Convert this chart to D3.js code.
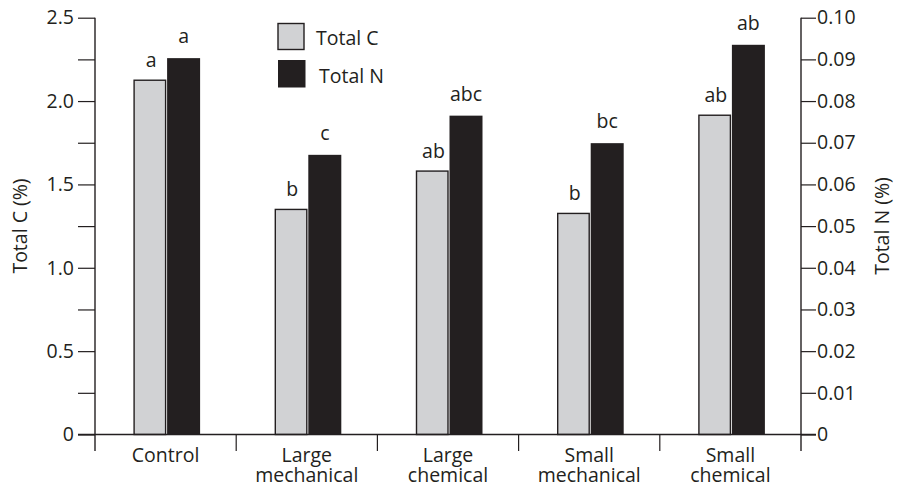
<!DOCTYPE html>
<html>
<head>
<meta charset="utf-8">
<script src="https://cdn.jsdelivr.net/npm/d3@7"></script>
<style>
  html, body { margin: 0; padding: 0; background: #fff; }
  svg text { font-family: "Open Sans", "Noto Sans", sans-serif; fill: #231f20; }
</style>
</head>
<body>
<svg id="chart" width="899" height="487"></svg>
<script>
// Treatments and their measured soil carbon / nitrogen
const categories = ["Control", "Large mechanical", "Large chemical", "Small mechanical", "Small chemical"];
const categoryLines = [["Control"], ["Large", "mechanical"], ["Large", "chemical"], ["Small", "mechanical"], ["Small", "chemical"]];
const totalC = [2.125, 1.35, 1.58, 1.326, 1.915];
const totalN = [0.0903, 0.0671, 0.0765, 0.0699, 0.0935];
const lettersC = ["a", "b", "ab", "b", "ab"];
const lettersN = ["a", "c", "abc", "bc", "ab"];
const ticksC = [0, 0.5, 1.0, 1.5, 2.0, 2.5];
const minorTicksC = [0.25, 0.75, 1.25, 1.75, 2.25];
const ticksN = [0, 0.01, 0.02, 0.03, 0.04, 0.05, 0.06, 0.07, 0.08, 0.09, 0.10];

const ink = "#231f20";
const grey = "#d1d2d4";
const fs = 19.5;

const svg = d3.select("#chart");
const plotLeft = 95, plotRight = 801, plotTop = 17.7, plotBottom = 434.5;

const x = d3.scaleBand().domain(categories).range([plotLeft, plotRight]);
const barW = 33;
const yC = d3.scaleLinear().domain([0, 2.5]).range([plotBottom, plotTop]);
const yN = d3.scaleLinear().domain([0, 0.1]).range([plotBottom, plotTop]);

const fmtC = d => d === 0 ? "0" : d3.format(".1f")(d);
const fmtN = d => d === 0 ? "0" : d3.format(".2f")(d);

// Left axis (Total C)
const gL = svg.append("g").attr("transform", `translate(${plotLeft},0)`)
  .call(d3.axisLeft(yC).tickValues(ticksC).tickFormat(fmtC).tickSize(17).tickPadding(4));
svg.append("g").attr("transform", `translate(${plotLeft},0)`)
  .call(d3.axisLeft(yC).tickValues(minorTicksC).tickFormat("").tickSize(17))
  .select(".domain").remove();

// Right axis (Total N)
const gR = svg.append("g").attr("transform", `translate(${plotRight},0)`)
  .call(d3.axisRight(yN).tickValues(ticksN).tickFormat(fmtN).tickSize(15).tickPadding(1));

[gL, gR].forEach(g => {
  g.select(".domain").remove();
  g.selectAll("text").attr("font-size", fs).style("font-family", "'Open Sans', sans-serif").attr("fill", ink);
});
svg.selectAll(".tick line").attr("stroke", ink).attr("stroke-width", 1.2);

// Vertical axis lines reaching below the baseline
[plotLeft, plotRight].forEach(xx => {
  svg.append("line").attr("x1", xx).attr("x2", xx).attr("y1", plotTop).attr("y2", 451)
    .attr("stroke", ink).attr("stroke-width", 1.4);
});

// Bars
const groups = svg.append("g").selectAll("g").data(categories).join("g");
groups.append("rect")
  .attr("x", (d) => x(d) + x.bandwidth() / 2 - barW + 1.5)
  .attr("width", barW - 1.5)
  .attr("y", (d, i) => yC(totalC[i]))
  .attr("height", (d, i) => plotBottom - yC(totalC[i]))
  .attr("fill", grey).attr("stroke", ink).attr("stroke-width", 1.4);
groups.append("rect")
  .attr("x", (d) => x(d) + x.bandwidth() / 2 + 1.5)
  .attr("width", barW)
  .attr("y", (d, i) => yN(totalN[i]))
  .attr("height", (d, i) => plotBottom - yN(totalN[i]))
  .attr("fill", ink);

// Significance letters
groups.append("text")
  .attr("x", d => x(d) + x.bandwidth() / 2 - barW / 2 + 2)
  .attr("y", (d, i) => yC(totalC[i]) - 13)
  .attr("text-anchor", "middle").attr("font-size", fs)
  .text((d, i) => lettersC[i]);
groups.append("text")
  .attr("x", d => x(d) + x.bandwidth() / 2 + barW / 2 + 1.5)
  .attr("y", (d, i) => yN(totalN[i]) - 15)
  .attr("text-anchor", "middle").attr("font-size", fs)
  .text((d, i) => lettersN[i]);

// Baseline and category separators
svg.append("line").attr("x1", 78).attr("x2", 816).attr("y1", plotBottom).attr("y2", plotBottom)
  .attr("stroke", ink).attr("stroke-width", 1.4);
categories.slice(1).forEach(c => {
  svg.append("line").attr("x1", x(c)).attr("x2", x(c)).attr("y1", plotBottom).attr("y2", 451)
    .attr("stroke", ink).attr("stroke-width", 1.2);
});

// Category labels, one text element per line
categoryLines.forEach((lines, i) => {
  const cx = x(categories[i]) + x.bandwidth() / 2;
  lines.forEach((ln, j) => svg.append("text")
    .attr("text-anchor", "middle").attr("font-size", fs)
    .attr("x", cx).attr("y", 461.5 + j * 20.5).text(ln));
});

// Axis titles
svg.append("text").attr("transform", "translate(27,226) rotate(-90)")
  .attr("text-anchor", "middle").attr("font-size", fs).text("Total C (%)");
svg.append("text").attr("transform", "translate(889,226) rotate(-90)")
  .attr("text-anchor", "middle").attr("font-size", fs).text("Total N (%)");

// Legend
const legend = svg.append("g");
legend.append("rect").attr("x", 278).attr("y", 23.5).attr("width", 26).attr("height", 26)
  .attr("fill", grey).attr("stroke", ink).attr("stroke-width", 1.4);
legend.append("rect").attr("x", 278).attr("y", 60).attr("width", 27.5).attr("height", 27.5)
  .attr("fill", ink);
legend.append("text").attr("x", 316).attr("y", 45).attr("font-size", fs).text("Total C");
legend.append("text").attr("x", 319).attr("y", 83).attr("font-size", fs).text("Total N");
</script>
</body>
</html>
